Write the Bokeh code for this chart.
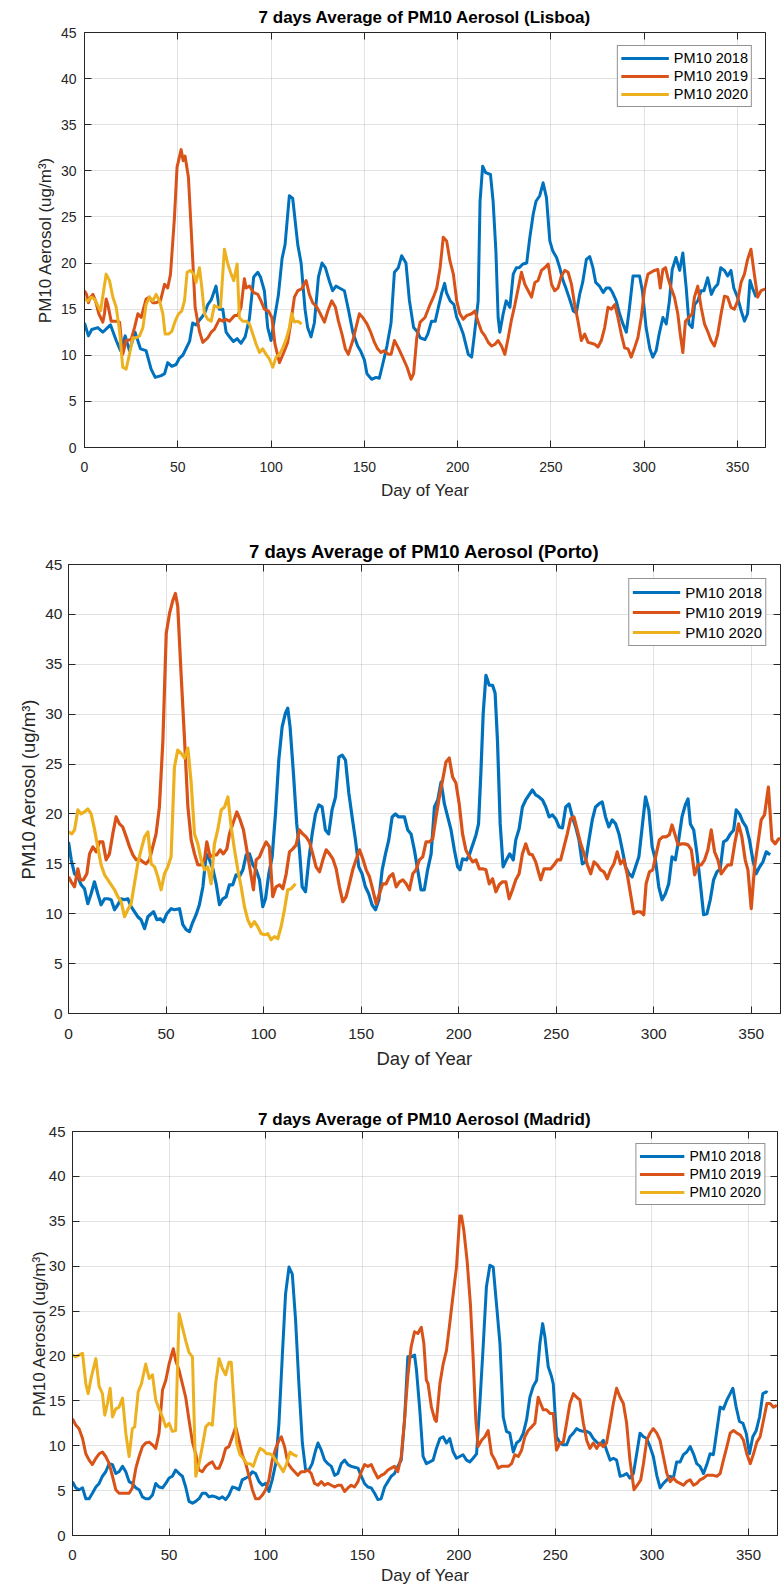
from bokeh.plotting import figure
from bokeh.models import (Range1d, LinearAxis, SingleIntervalTicker, Legend,
                          LegendItem, CustomJSTickFormatter)
from bokeh.embed import file_html
from bokeh.resources import INLINE

FONT = "Liberation Sans"
AX = "#262626"
COLORS = {"2018": "#0072BD", "2019": "#D95319", "2020": "#EDB120"}
X_MAX = 365
Y_MAX = 45
X_TICK = 50
Y_TICK = 5
X_LABEL = "Day of Year"
Y_LABEL = "PM10 Aerosol (ug/m³)"
TITLES = ["7 days Average of PM10 Aerosol (Lisboa)",
          "7 days Average of PM10 Aerosol (Porto)",
          "7 days Average of PM10 Aerosol (Madrid)"]

# (day of year, 7-day mean PM10)
LISBOA_2018 = [(0,13.5),(2.1,12.1),(3.9,12.8),(7.1,13.0),(9.8,12.5),(13.9,13.3),(17,11.6),(19.3,10.5),(21.8,12.1),(24.1,10.5),(27.1,12.5),(30,10.7),(33,10.5),(35.7,8.5),(37.9,7.6),(41.1,7.8),(42.9,8.0),(44.6,9.2),(46.8,8.8),(49.1,9.0),(50.9,9.7),(52.7,10.0),(56.3,11.5),(58,13.5),(59.8,13.3),(61.6,13.8),(64.3,14.5),(66.1,15.5),(67.9,16.0),(70.5,17.5),(72.3,15.0),(74.1,15.0),(75.9,12.5),(77.7,12.0),(79.8,11.5),(81.8,11.8),(83.9,11.3),(86.1,12.0),(88.4,14.0),(90.7,18.5),(92.9,19.0),(94.3,18.5),(96.4,17.0),(98.2,13.0),(100,11.6),(101.8,14.0),(103.9,16.5),(105.9,20.5),(107.5,22.0),(109.8,27.3),(111.6,27.0),(114.3,22.0),(116.1,20.0),(118.2,15.0),(119.6,13.0),(121.4,12.0),(123.2,13.5),(125.4,18.5),(127.3,20.0),(129.1,19.5),(131.3,18.0),(133,17.0),(134.8,17.5),(136.6,17.3),(139.3,17.0),(141.4,15.0),(143.8,12.5),(146.4,11.0),(147.9,10.5),(150,9.5),(151.4,8.0),(153.9,7.4),(156.3,7.6),(158,7.5),(159.8,9.0),(162.1,11.0),(164.3,13.5),(166.1,19.0),(168.2,19.5),(170,20.8),(172.3,20.0),(174.1,16.0),(176.4,13.0),(178.6,12.5),(179.9,11.9),(182.5,11.7),(184,12.3),(186,13.7),(188,13.7),(190,15.5),(191.5,16.8),(193,17.8),(194,16.8),(196,15.9),(198,15.5),(199.5,14.1),(201,13.4),(203,12.3),(205.7,10.1),(207.5,9.8),(209,12.3),(211,15.9),(212,26.7),(213.4,30.5),(215,29.8),(217.6,29.6),(219,26.7),(220.5,21.3),(221.7,14.1),(222.6,12.5),(224.4,14.5),(226,15.9),(228,15.2),(229.8,18.8),(231.5,19.5),(233,19.5),(235,19.9),(237,20.0),(238.7,22.8),(240.5,25.3),(242,26.7),(244,27.3),(245.8,28.7),(247.6,27.1),(249.4,22.4),(251,21.3),(253,20.6),(254.7,19.5),(256.5,18.1),(258,17.3),(260,16.1),(262,14.8),(263.6,14.6),(265.4,16.6),(267,17.9),(269,20.4),(270.8,20.7),(272.5,19.5),(274,17.9),(276,17.5),(278,16.8),(279.7,17.3),(281.5,17.3),(283,16.8),(285,15.9),(286.8,14.5),(288.6,13.4),(290.4,12.5),(292,15.0),(294,18.6),(297.5,18.6),(299,17.0),(301,13.0),(303,10.7),(304.6,9.8),(306.4,10.5),(308,12.3),(310,14.1),(311.8,13.4),(313.5,15.9),(315,19.3),(317,20.6),(319,19.2),(320.7,21.1),(322.5,17.3),(324,13.4),(325.7,13.0),(327,15.5),(328.7,15.9),(330.5,17.0),(332,17.0),(334,18.4),(336,16.6),(337.6,17.3),(339.4,17.7),(341,19.5),(343,19.2),(344.7,18.6),(346.5,19.2),(348,17.3),(350,16.3),(352,14.8),(353.7,13.7),(355.4,14.5),(356.7,18.1),(358,17.3),(360,16.3)]
LISBOA_2019 = [(0,17.0),(1.1,16.6),(2.1,15.7),(3.2,16.3),(4.5,16.6),(5.9,15.9),(7.7,14.5),(9.8,13.6),(10.7,14.5),(11.6,16.1),(12.5,15.5),(14.3,13.7),(17,13.7),(18.8,13.6),(20.5,10.1),(22.3,11.6),(25,11.7),(26.8,13.0),(28.6,14.5),(30.4,14.1),(33,16.1),(34.8,16.3),(36.6,15.7),(38.4,15.7),(40.7,15.9),(42.9,17.7),(44.6,17.3),(46.1,18.8),(48.2,24.9),(49.6,30.4),(51.8,32.3),(52.9,31.1),(53.9,31.6),(55.7,29.3),(57.5,22.4),(59.3,15.2),(61.6,12.6),(63.4,11.4),(66.1,11.9),(67.9,12.5),(69.6,12.8),(72.3,13.9),(74.1,13.7),(75.9,13.9),(77.7,13.7),(80.4,14.3),(82.1,14.3),(83.9,15.2),(85.7,18.3),(86.6,17.3),(88.4,17.5),(90.7,16.8),(92.9,16.6),(94.6,15.9),(96.4,15.0),(98.6,14.8),(100.4,14.1),(102.1,11.2),(104.5,9.2),(106.8,10.3),(108.9,11.4),(110.7,13.7),(112.5,16.3),(114.3,17.0),(116.4,17.2),(118.8,18.1),(120.5,16.6),(122.3,15.7),(124.6,15.2),(126.4,14.5),(128.6,13.6),(130.4,14.8),(132.5,15.9),(134.5,15.2),(136.1,13.7),(138,12.3),(139.8,10.7),(141.4,10.1),(143.8,11.6),(145.5,13.0),(147.3,14.5),(149.1,14.1),(151.4,13.4),(153.2,12.6),(155.4,11.4),(157.1,10.7),(158.9,10.3),(160.7,10.5),(162.9,10.1),(164.3,10.1),(166.1,11.6),(168.2,10.8),(170.5,9.8),(172.9,8.7),(175,7.4),(176.4,8.0),(178.1,11.9),(179.9,13.6),(182.5,14.1),(185.2,15.5),(187,16.3),(188.8,17.3),(190.6,19.5),(192.3,22.8),(194.1,22.4),(195.9,20.2),(197.7,18.8),(199.5,15.9),(201.2,14.5),(203,13.9),(204.8,14.3),(207.5,14.5),(209.3,14.8),(211,13.6),(212.8,12.6),(214.6,12.1),(216.4,11.4),(218.2,11.0),(220,11.2),(221.7,11.6),(223.5,11.0),(225.3,10.1),(227.1,11.9),(228.9,13.9),(230.7,15.5),(232.4,17.2),(234.2,19.0),(236,17.7),(237.8,17.0),(239.6,16.3),(241.4,17.9),(243.1,18.1),(244.9,19.2),(246.7,19.5),(248.5,19.9),(250.3,17.7),(252,17.0),(253.8,17.3),(255.6,18.6),(257.4,19.2),(259.2,19.0),(261,17.7),(262.7,15.5),(264.5,13.7),(266.3,11.6),(268.1,12.3),(269.9,11.4),(271.7,11.3),(273.4,11.2),(275.2,10.9),(277,11.6),(278.8,13.0),(280.6,15.2),(282.4,15.0),(284.2,15.5),(285.9,14.1),(287.7,12.3),(289.5,10.8),(291.3,10.7),(293,9.8),(294.8,10.8),(296.6,11.9),(298.4,14.1),(300.2,17.2),(302,18.8),(303.7,19.0),(305.5,19.2),(307.3,19.3),(308.6,17.3),(310,19.3),(311.4,19.5),(312.7,18.4),(314.4,17.3),(316.2,16.3),(318,14.5),(319.3,12.3),(320.7,10.3),(322.1,13.7),(323.9,14.1),(325.7,14.5),(326.9,16.3),(328.7,17.5),(330.5,15.2),(332.3,13.4),(334,12.6),(335.8,11.6),(337.6,11.0),(339.4,12.3),(341.2,14.5),(343,16.4),(344.7,16.3),(346.5,15.2),(348.3,15.0),(350.1,15.9),(351.9,17.9),(353.7,18.8),(355.4,20.4),(357.2,21.5),(359,18.8),(360.8,16.3),(362.6,17.0),(364.9,17.2)]
LISBOA_2020 = [(0,16.1),(1.8,15.9),(3.6,16.3),(5.4,16.1),(7.1,15.4),(8.6,14.8),(9.8,16.4),(11.6,18.8),(13.4,18.1),(15.2,16.3),(17,15.2),(18.8,12.6),(20.5,8.7),(22.3,8.5),(24.1,10.1),(25.9,11.9),(27.7,11.9),(29.5,12.1),(31.3,13.0),(33,15.5),(34.8,16.3),(36.6,15.9),(38.4,16.6),(40.2,15.9),(42,14.5),(43.2,12.3),(45,12.3),(46.8,12.6),(48.6,13.7),(50.4,14.5),(52.1,14.8),(53.6,15.9),(55,19.0),(56.8,19.2),(58.6,18.8),(59.8,17.9),(61.6,19.5),(62.9,17.3),(64.3,14.5),(66.1,13.9),(67.9,13.7),(69.6,15.4),(71.4,15.2),(72.9,15.2),(75,21.5),(76.8,19.9),(78.6,18.8),(80,18.1),(81.8,19.9),(83,14.1),(84.8,13.7),(86.6,13.7),(88.4,13.4),(90.2,12.3),(92,11.2),(93.8,10.3),(95.5,10.7),(97.3,10.1),(99.1,9.6),(100.9,8.7),(102.7,9.8),(104.5,10.1),(106.3,10.8),(108,11.7),(109.8,13.0),(111,14.5),(112.5,13.6),(114.3,13.7),(116.4,13.4)]

PORTO_2018 = [(0,17.2),(1.4,15.4),(3.1,14.0),(4.8,13.7),(6.5,12.9),(8.2,12.5),(9.9,11.0),(11.6,12.0),(13.3,13.2),(15,12.0),(16.7,10.9),(18.5,11.5),(20.2,11.5),(21.9,11.4),(23.6,10.4),(25.3,10.9),(27,11.5),(28.7,11.4),(30.4,11.5),(32.1,10.7),(33.8,10.2),(35.5,9.7),(37.2,9.4),(39,8.5),(40.7,9.7),(42.4,10.0),(43.6,10.2),(45.3,9.4),(47,9.5),(48.7,9.2),(50.4,10.0),(52.6,10.5),(54.3,10.4),(56.9,10.5),(58.6,8.9),(60.3,8.4),(62,8.2),(63.4,9.0),(65.4,9.9),(67.1,10.9),(68.9,12.7),(70.6,16.0),(72.3,15.4),(74,14.5),(75.7,13.0),(77.4,10.9),(79.1,11.5),(80.8,11.7),(82.5,12.9),(84.2,12.9),(85.9,13.9),(87.6,13.7),(89.4,14.4),(91.1,15.9),(92.8,16.0),(94.5,14.9),(96.2,14.4),(97.9,13.4),(99.6,10.7),(101,11.5),(102.7,14.0),(104.4,15.7),(106.1,20.0),(107.8,25.4),(109.5,28.7),(111.2,30.1),(112.4,30.6),(113.6,28.7),(115.3,24.1),(117,19.0),(118.4,16.4),(119.8,12.7),(121.5,12.2),(123.2,15.4),(124.9,18.0),(126.6,20.0),(128.3,20.9),(130,20.7),(131.7,18.4),(133.4,18.0),(135.1,20.4),(136.9,21.7),(138.6,25.7),(140.3,25.9),(142,25.4),(143.7,22.1),(145.4,19.7),(147.1,17.4),(148.8,14.7),(150.5,14.0),(152.2,12.7),(153.9,12.0),(155.6,10.9),(157.4,10.4),(159.1,11.4),(160.8,14.4),(162.5,16.0),(164.2,17.4),(165.9,19.7),(167.6,20.0),(169.3,19.7),(172.2,19.7),(173.9,18.4),(175.6,18.0),(177.3,16.4),(179,14.4),(180.7,12.4),(182.4,12.4),(184.1,14.4),(185.9,16.0),(187.6,20.7),(189.3,21.4),(191,23.2),(192.7,21.0),(194.4,19.7),(196.1,18.4),(197.8,16.4),(199.5,14.7),(200.7,14.4),(202,15.5),(204.1,15.4),(205.5,15.9),(207.2,16.9),(208.9,17.9),(210.2,19.0),(211.4,24.1),(212.6,30.1),(214,33.9),(215.7,32.9),(217.4,32.9),(218.7,32.1),(219.9,27.4),(221.3,19.0),(222.8,14.7),(224.5,15.4),(226.2,16.0),(228,15.4),(229.3,17.4),(231,18.5),(232.7,20.7),(234.4,21.4),(236.1,21.9),(237.8,22.4),(239.5,21.9),(241.2,21.7),(243,21.4),(244.7,20.7),(246.4,19.7),(248.1,19.9),(249.8,19.5),(251.5,18.7),(253.2,18.6),(254.9,20.7),(256.6,21.0),(258.3,19.7),(260,18.7),(261.7,17.4),(263.4,15.0),(265.1,15.2),(266.8,17.4),(268.5,19.4),(270.2,20.7),(271.9,21.0),(273.6,21.2),(275.3,19.7),(277,18.7),(278.7,19.4),(280.5,19.0),(282.2,18.0),(283.9,16.4),(285.6,14.7),(287.3,14.0),(289,13.7),(290.7,14.7),(292.4,15.7),(294.1,18.7),(295.8,21.7),(297.5,20.4),(299.2,16.7),(300.9,15.4),(302.6,12.7),(304.3,11.4),(306,12.0),(307.7,13.0),(309.4,15.7),(311.1,15.4),(312.8,17.4),(314.5,19.7),(316.2,20.9),(317.6,21.5),(318.8,19.0),(320.5,18.4),(322.2,16.0),(323.9,13.0),(325.6,9.9),(327.3,10.0),(329,11.4),(330.7,13.4),(332.4,14.2),(334.1,14.5),(335.8,17.2),(337.5,17.4),(339.3,18.0),(341,18.4),(342.3,20.4),(344,20.0),(345.7,19.2),(347.4,18.7),(349.1,17.4),(350.8,15.4),(352.5,14.0),(354.3,14.7),(356,15.2),(357.7,16.2),(359.7,15.9)]
PORTO_2019 = [(0,13.7),(1.4,13.2),(3.1,12.7),(4.8,14.5),(6,13.4),(7.7,13.4),(9.4,14.0),(10.8,16.0),(12.5,16.7),(14.2,16.2),(15.9,17.2),(17.6,17.2),(19.3,15.4),(21,16.0),(22.7,18.0),(24.4,19.7),(26.1,19.0),(27.8,18.7),(29.6,17.7),(31.3,16.7),(33,15.9),(34.7,15.4),(36.4,15.5),(38.1,15.2),(39.8,15.0),(41.5,15.4),(43.2,16.7),(44.9,18.0),(46.6,20.7),(48.4,27.4),(50.1,38.1),(51.8,40.1),(53.5,41.4),(54.8,42.1),(56,40.8),(57.7,34.1),(59.5,27.4),(61.2,20.7),(62.9,17.4),(64.6,16.0),(66.3,14.9),(68,14.9),(69.7,15.4),(70.9,17.2),(72.6,15.7),(74.3,15.9),(76,15.9),(77.7,16.4),(79.4,16.0),(81.2,16.5),(82.5,18.0),(84.2,19.0),(86.3,20.2),(88,19.4),(89.7,18.4),(91.4,16.4),(93.1,14.4),(94.8,12.4),(96.2,15.4),(97.9,15.7),(99.6,16.5),(101.3,17.2),(103,16.7),(104.7,11.7),(106.4,12.7),(108.2,12.9),(109.9,12.5),(111.6,14.0),(113.3,16.2),(115,16.5),(116.7,16.9),(118.4,18.4),(120.1,18.0),(121.8,17.7),(123.5,17.2),(125.2,16.0),(126.9,14.7),(128.7,14.2),(130.4,15.4),(132.1,16.4),(133.8,16.0),(135.5,15.5),(137.2,14.5),(138.9,12.7),(140.6,11.2),(142.3,11.7),(144,13.0),(145.7,14.4),(147.4,15.4),(149.2,16.4),(150.9,15.5),(152.6,14.4),(154.3,13.7),(156,12.4),(157.7,11.0),(159.4,12.0),(161.1,13.0),(162.8,13.0),(164.5,13.7),(166.3,14.0),(168,12.7),(169.7,13.2),(171.4,13.4),(173.1,13.0),(174.8,12.4),(176.5,14.0),(178.2,14.4),(179.9,15.4),(181.6,15.7),(183.3,17.2),(185,17.2),(186.7,17.5),(188.4,19.7),(190.1,21.7),(191.8,23.4),(193.5,25.2),(195.2,25.6),(196.9,23.7),(198.6,23.1),(200.3,21.0),(202,18.0),(203.7,16.4),(205.5,15.7),(207.2,15.2),(208.9,15.4),(210.6,14.5),(212.3,14.5),(214,14.4),(215.7,13.0),(217.4,13.5),(219.1,12.2),(220.8,12.9),(222.5,13.2),(224.2,13.2),(225.9,11.5),(227.6,12.4),(229.3,13.4),(231,14.0),(232.7,16.0),(234.4,17.0),(236.1,16.0),(237.8,15.9),(239.5,15.2),(241.2,14.0),(242.1,13.4),(243.8,14.5),(245.5,14.5),(247.2,14.5),(248.9,14.9),(250.6,15.4),(252.3,15.4),(254,16.7),(255.7,18.0),(257.4,19.5),(259.1,19.7),(260.8,18.4),(262.6,17.0),(264.3,16.0),(266,14.9),(267.7,14.0),(269.4,15.2),(271.1,14.9),(272.8,14.4),(274.5,14.2),(276.2,13.5),(277.9,14.4),(279.6,15.0),(281.3,16.2),(283,15.0),(284.7,15.4),(286.4,14.0),(288.1,12.0),(289.8,10.0),(291.5,10.2),(293.2,10.2),(294.9,9.9),(296.1,13.0),(297.8,14.2),(299.5,14.4),(301.2,15.9),(302.9,17.4),(304.6,17.7),(306.3,17.7),(308,17.9),(309.4,18.9),(310.8,18.0),(312.5,16.9),(314.2,17.0),(315.9,17.0),(317.6,16.9),(319.3,16.4),(321,13.9),(322.7,14.9),(324.4,14.9),(326.1,15.4),(327.8,16.4),(329.5,18.4),(331.2,16.2),(332.9,15.4),(334.6,14.0),(336.4,14.5),(338.1,14.9),(339.8,14.9),(341.5,17.0),(343.5,19.0),(345.2,17.7),(346.9,15.4),(348.3,14.4),(350,10.5),(351.7,14.7),(353.4,17.0),(355.1,19.4),(356.8,19.9),(358.8,22.7),(360.6,17.4),(362.3,17.0),(364,17.5),(365,17.5)]
PORTO_2020 = [(0,18.2),(1.7,18.0),(3.1,18.4),(4.8,20.4),(6.5,20.0),(8.2,20.2),(9.9,20.5),(11.6,20.0),(13.3,18.5),(15,16.7),(16.7,14.9),(18.5,13.9),(20.2,13.4),(21.9,12.9),(23.6,12.4),(25.3,11.7),(27,11.2),(28.7,9.7),(30.4,10.4),(32.1,11.0),(33.8,13.0),(35.5,15.0),(37.2,16.4),(39,17.7),(40.7,18.2),(42.4,15.0),(44.1,14.7),(45.8,13.7),(47.5,12.4),(49.2,14.0),(50.9,14.7),(52.6,15.7),(54.3,24.7),(56,26.4),(57.7,26.1),(59.5,25.6),(61.2,26.6),(62.9,23.1),(64.6,18.0),(66.3,17.0),(68,15.4),(69.7,14.4),(71.4,14.7),(73.1,13.0),(74.8,17.0),(76.5,18.4),(78.3,20.4),(80,20.7),(81.7,21.7),(83.4,18.7),(85.1,16.4),(86.8,14.4),(88.5,12.7),(90.2,10.7),(91.9,9.4),(93.6,8.7),(95.3,9.2),(97,8.7),(98.8,8.0),(100.5,7.9),(102.2,8.0),(103.9,7.4),(105.6,7.7),(107.3,7.5),(109,8.7),(110.7,10.4),(112.4,12.4),(114.1,12.5),(116.4,13.0)]

MADRID_2018 = [(0,6.0),(1.7,5.3),(3.4,5.1),(5.2,5.3),(6.9,4.1),(8.6,4.1),(10.3,4.7),(12.1,5.4),(13.8,5.8),(15.5,6.6),(17.2,7.1),(19,8.0),(20.7,7.9),(22.4,6.9),(24.1,7.1),(25.9,7.7),(27.6,7.1),(29.3,6.0),(31,5.8),(32.8,5.3),(34.5,5.1),(36.2,4.3),(37.9,4.1),(39.7,4.1),(41.4,4.5),(43.1,5.8),(44.8,5.4),(46.6,5.3),(48.3,5.8),(50,6.4),(51.7,6.6),(53.4,7.3),(55.2,6.9),(56.9,6.6),(58.6,5.4),(60.3,3.8),(62.1,3.6),(63.8,3.8),(65.5,4.1),(67.2,4.7),(69,4.7),(70.7,4.3),(72.4,4.4),(74.1,4.3),(75.9,4.1),(77.6,4.3),(79.3,4.0),(81,4.5),(82.8,5.4),(84.5,5.3),(86.2,5.1),(87.9,6.2),(89.7,6.4),(91.4,6.6),(93.1,7.1),(94.8,6.9),(96.6,6.0),(98.3,5.6),(100,5.8),(101.7,4.9),(103.4,6.2),(105.2,8.0),(106.9,12.5),(108.6,19.9),(110.3,26.9),(112.1,29.9),(113.8,29.1),(115.5,24.0),(117.2,16.9),(119,10.3),(120.7,7.3),(122.4,7.3),(124.1,8.0),(125.9,9.5),(127.1,10.3),(128.8,9.5),(130.5,8.4),(132.2,8.0),(134,7.7),(135.7,6.7),(137.4,6.9),(139.1,8.0),(140.9,8.4),(142.6,7.9),(144.3,7.7),(146,7.6),(147.8,7.5),(149.5,6.6),(151.2,5.8),(152.9,5.4),(154.7,5.3),(156.4,4.7),(158.1,4.0),(159.8,4.1),(161.6,5.4),(163.3,6.0),(165,6.6),(166.7,6.9),(168.4,7.7),(170.2,8.4),(171.9,12.8),(173.6,19.9),(175.3,19.9),(177.1,20.1),(178.1,18.4),(179.8,14.0),(181.5,8.8),(183.2,8.0),(185,8.2),(186.7,8.4),(188.4,9.7),(190.2,10.8),(191.9,11.0),(193.6,10.3),(195.3,10.8),(197.1,9.3),(198.8,8.6),(200.5,8.8),(202.2,9.0),(204,8.4),(205.7,8.2),(207.4,8.6),(209.2,9.1),(210.9,14.7),(212.6,21.0),(214.3,27.7),(216.1,30.1),(217.8,29.9),(219.5,25.8),(221.3,21.4),(223,13.2),(224.7,11.6),(226.4,11.4),(228.2,9.3),(229.9,10.3),(231.6,10.6),(233.4,11.4),(235.1,12.9),(236.8,15.4),(238.5,16.6),(240.3,17.3),(242,21.4),(243.4,23.6),(244.6,22.1),(246.3,18.8),(248,17.7),(248.9,16.9),(250.6,11.0),(252.4,10.3),(254.1,10.1),(255.8,10.1),(257.5,11.0),(259.3,11.4),(261,11.9),(262.7,11.7),(264.5,11.6),(266.2,11.6),(267.9,11.4),(269.6,10.8),(271.4,10.4),(273.1,10.1),(274.8,10.6),(276.5,9.5),(278.3,8.4),(280,8.6),(281.7,8.4),(283.5,6.6),(285.2,6.7),(286.9,6.9),(288.6,6.4),(290.4,6.9),(292.1,9.1),(293.8,11.4),(295.6,11.0),(297.3,10.8),(299,9.9),(300.7,8.8),(302.5,6.7),(304.2,5.3),(305.9,5.8),(307.7,6.2),(309.4,6.6),(311.1,6.4),(312.8,8.2),(314.6,8.2),(316.3,9.0),(318,9.3),(319.8,9.9),(321.5,9.1),(323.2,8.0),(324.9,7.7),(326.7,6.9),(328.4,7.9),(330.1,9.1),(331.8,9.0),(333.6,11.7),(335.3,14.3),(337,14.1),(338.8,15.1),(340.5,15.8),(341.9,16.4),(343.6,14.3),(345.3,12.7),(347.1,12.5),(348.8,11.4),(350.5,9.1),(352.2,11.0),(354,11.7),(355.7,13.2),(357.4,15.8),(359.2,16.0),(359.8,15.9)]
MADRID_2019 = [(0,13.0),(1.7,12.3),(3.4,11.9),(5.2,10.8),(6.9,9.1),(8.6,8.4),(10.3,7.9),(12.1,8.6),(13.8,9.1),(15.5,9.3),(17.2,8.8),(19,8.0),(20.7,6.6),(22.4,5.1),(24.1,4.7),(25.9,4.7),(27.6,4.7),(29.3,4.7),(31,5.3),(32.8,7.5),(34.5,8.8),(36.2,9.9),(37.9,10.3),(39.7,10.4),(41.4,10.1),(43.1,9.7),(44.8,11.4),(46.6,16.2),(48.3,17.3),(50,19.1),(52.2,20.8),(53.4,19.5),(55.2,18.4),(56.9,16.9),(58.6,15.4),(60.3,12.9),(62.1,10.4),(63.8,9.1),(65.5,7.3),(67.2,7.1),(69,7.7),(70.7,8.0),(72.4,8.2),(74.1,7.5),(75.9,7.5),(77.6,8.4),(79.3,9.7),(81,9.9),(82.8,11.0),(84.5,12.1),(86.2,10.6),(87.9,9.0),(89.7,8.0),(91.4,6.6),(93.1,5.1),(94.8,4.1),(96.6,4.1),(98.3,4.5),(100,5.1),(101.7,6.2),(103.4,8.4),(105.2,9.7),(106.9,10.6),(108.1,11.0),(109.8,9.9),(111.6,8.0),(113.3,7.5),(115,7.1),(116.7,6.7),(118.4,7.1),(120.2,7.1),(121.9,7.3),(123.6,6.9),(125.3,5.8),(127.1,5.6),(128.8,6.0),(130.5,5.6),(132.2,5.8),(134,5.6),(135.7,5.4),(137.4,5.6),(139.1,5.6),(140.9,4.9),(142.6,5.3),(144.3,5.6),(146,5.4),(147.8,6.0),(149.5,7.1),(151.2,7.9),(152.9,7.7),(154.7,7.9),(156.4,7.1),(158.1,6.4),(159.8,6.7),(161.6,6.9),(163.3,7.3),(165,7.5),(166.7,7.7),(168.4,7.1),(170.2,8.8),(171.9,12.9),(173.6,17.7),(175.3,21.0),(177.1,22.7),(178.8,22.5),(180.6,23.2),(181.9,21.4),(183.2,17.3),(184.1,16.9),(185.8,14.3),(187.6,12.9),(188.4,12.7),(190.2,16.9),(191.9,19.1),(193.6,20.6),(195.3,23.6),(197.1,26.9),(198.8,29.9),(200.5,35.6),(201.4,35.6),(202.6,34.0),(204.3,30.6),(206,25.8),(207.4,19.9),(208.8,12.9),(210,9.9),(211.8,10.6),(213.5,11.0),(215.2,11.7),(216.9,9.1),(218.7,8.4),(220.4,7.5),(222.1,7.7),(223.8,7.7),(225.6,7.7),(227.3,8.0),(229,9.0),(230.8,8.8),(232.5,9.5),(234.2,11.0),(235.9,11.7),(237.7,12.1),(239.4,12.5),(241.1,15.4),(242,14.9),(243.7,14.0),(245.4,14.0),(247.2,13.6),(248.9,13.6),(250.6,9.5),(252.4,10.3),(254.1,10.4),(255.8,12.5),(257.5,14.7),(259.3,15.8),(261,15.4),(262.7,15.1),(264.5,12.5),(266.2,10.6),(267.9,9.7),(269.6,10.3),(271.4,9.7),(273.1,10.3),(274.8,9.9),(276.5,10.3),(278.3,12.5),(280,14.7),(281.7,16.4),(283.5,15.4),(285.2,14.7),(286.9,12.5),(288.6,8.4),(290.7,5.1),(292.4,5.6),(294.2,6.2),(295.6,8.0),(297.3,10.6),(299,11.4),(300.7,11.9),(302.5,11.4),(304.2,10.6),(305.9,8.8),(307.7,6.9),(309.4,6.0),(311.1,6.4),(312.8,6.0),(314.6,5.8),(316.3,5.6),(318,6.0),(319.8,6.2),(321.5,5.6),(323.2,5.8),(324.9,6.2),(326.7,6.4),(328.4,6.7),(330.1,6.7),(331.8,6.7),(333.6,6.6),(335.3,6.9),(337,8.4),(338.8,9.9),(340.5,11.4),(342.2,11.7),(344,11.4),(345.7,11.2),(347.4,10.6),(349.1,9.1),(350.9,8.0),(352.6,9.1),(354.3,10.4),(356,11.0),(357.8,12.9),(359.5,14.7),(361.2,14.7),(362.9,14.3),(364.7,14.5)]
MADRID_2020 = [(0,20.1),(1.7,19.9),(3.4,20.1),(5.2,20.3),(6.9,16.9),(8.1,15.8),(9.8,17.7),(12.1,19.7),(13.8,16.6),(15.5,15.8),(16.7,13.4),(18.1,14.7),(19.5,16.4),(20.7,13.2),(22.4,14.1),(24.1,14.3),(25.9,15.3),(27.6,11.4),(29.3,8.8),(31,11.9),(32.2,12.1),(34,16.0),(35.7,16.9),(37.9,19.1),(39.7,17.5),(41.4,17.9),(43.1,15.1),(44.8,14.1),(46.6,13.2),(48.3,12.1),(50,12.5),(51.7,11.6),(53.4,11.7),(55.2,24.7),(56.9,23.2),(58.6,21.7),(60.3,20.4),(62.1,19.9),(63.8,6.6),(65.5,8.0),(67.2,9.9),(69,12.1),(70.7,12.5),(72.4,12.3),(74.1,16.9),(75.9,19.7),(77.6,18.6),(79.3,17.9),(81,19.3),(82.2,19.3),(83.6,14.7),(85,10.3),(86.7,9.0),(88.4,8.6),(90.2,8.0),(91.9,8.0),(93.6,7.7),(95.3,8.8),(97.1,9.7),(98.8,9.5),(100.5,9.1),(102.2,9.1),(104,8.8),(105.7,8.2),(107.4,7.7),(109.1,7.1),(110.9,8.0),(112.6,9.3),(114.3,9.0),(116.4,8.8)]

# layout / style settings per panel (page pixels)
CFG = [
    dict(h=505, l=84, r=19, t=32, b=58, tick=14, lab=17, title=17, leg=14.5,
         gw=48, lh=18, pad=3, margin=13, lw=3, tst=3, yls=4, yas=3, xls=10, xas=6),
    dict(h=570, l=68, r=1, t=59, b=62, tick=15.5, lab=18.5, title=18.5, leg=15,
         gw=48, lh=20, pad=3, margin=14, lw=3.2, tst=-3, yls=2, yas=3, xls=11, xas=6),
    dict(h=512, l=72, r=7, t=56, b=51, tick=15, lab=17, title=17, leg=14,
         gw=45, lh=18, pad=3, margin=12, lw=3, tst=-3, yls=3, yas=-3, xls=10, xas=3),
]


def style_axis(ax, c):
    ax.major_tick_in = 7
    ax.major_tick_out = 0
    ax.minor_tick_line_color = None
    ax.major_tick_line_color = AX
    ax.axis_line_color = AX
    ax.major_label_text_font = FONT
    ax.major_label_text_color = AX
    ax.major_label_text_font_size = f"{c['tick']}px"
    ax.axis_label_text_font = FONT
    ax.axis_label_text_font_style = "normal"
    ax.axis_label_text_color = AX
    ax.axis_label_text_font_size = f"{c['lab']}px"


def make_panel(title, series, c):
    p = figure(width=784, height=c["h"], x_range=Range1d(0, X_MAX),
               y_range=Range1d(0, Y_MAX), output_backend="svg",
               toolbar_location=None, min_border_left=c["l"],
               min_border_right=c["r"], min_border_top=c["t"],
               min_border_bottom=c["b"])
    p.title.text = title
    p.title.align = "center"
    p.title.text_font = FONT
    p.title.text_font_size = f"{c['title']}px"
    p.title.text_font_style = "bold"
    p.title.text_color = "#000000"
    p.title.standoff = c["tst"]
    p.background_fill_color = "white"
    p.border_fill_color = "white"
    p.outline_line_color = AX
    p.outline_line_width = 1

    xt = SingleIntervalTicker(interval=X_TICK)
    yt = SingleIntervalTicker(interval=Y_TICK)
    xa = p.xaxis[0]
    ya = p.yaxis[0]
    xa.ticker = xt
    ya.ticker = yt
    p.xgrid.ticker = xt
    p.ygrid.ticker = yt
    for g in (p.xgrid[0], p.ygrid[0]):
        g.grid_line_color = AX
        g.grid_line_alpha = 0.13
        g.grid_line_width = 1
    xa.axis_label = X_LABEL
    ya.axis_label = Y_LABEL
    style_axis(xa, c)
    style_axis(ya, c)
    ya.major_label_standoff = c["yls"]
    ya.axis_label_standoff = c["yas"]
    xa.major_label_standoff = c["xls"]
    xa.axis_label_standoff = c["xas"]

    blank = "return ''"
    top = LinearAxis(ticker=SingleIntervalTicker(interval=X_TICK),
                     formatter=CustomJSTickFormatter(code=blank))
    right = LinearAxis(ticker=SingleIntervalTicker(interval=Y_TICK),
                       formatter=CustomJSTickFormatter(code=blank))
    for ax in (top, right):
        style_axis(ax, c)
        ax.axis_line_color = None
        ax.major_label_standoff = 0
        ax.major_label_text_font_size = "1px"
    p.add_layout(top, "above")
    p.add_layout(right, "right")

    items = []
    for year, data in series:
        xs = [d for d, v in data]
        ys = [v for d, v in data]
        r = p.line(xs, ys, line_color=COLORS[year], line_width=c["lw"],
                   line_join="round")
        items.append(LegendItem(label="PM10 " + year, renderers=[r]))
    leg = Legend(items=items, location="top_right")
    leg.label_text_font = FONT
    leg.label_text_font_size = f"{c['leg']}px"
    leg.label_text_color = "#000000"
    leg.glyph_width = c["gw"]
    leg.glyph_height = c["lh"]
    leg.label_height = c["lh"]
    leg.label_standoff = 5
    leg.padding = c["pad"]
    leg.spacing = 0
    leg.margin = c["margin"]
    leg.border_line_color = AX
    leg.border_line_width = 1
    leg.background_fill_color = "white"
    leg.background_fill_alpha = 1
    p.add_layout(leg)
    return p


p1 = make_panel(TITLES[0], [("2018", LISBOA_2018), ("2019", LISBOA_2019), ("2020", LISBOA_2020)], CFG[0])
p2 = make_panel(TITLES[1], [("2018", PORTO_2018), ("2019", PORTO_2019), ("2020", PORTO_2020)], CFG[1])
p3 = make_panel(TITLES[2], [("2018", MADRID_2018), ("2019", MADRID_2019), ("2020", MADRID_2020)], CFG[2])

# separate roots so that Bokeh does not align the three frames
open("out.html", "w").write(file_html([p1, p2, p3], INLINE, title="PM10 7 days average"))
